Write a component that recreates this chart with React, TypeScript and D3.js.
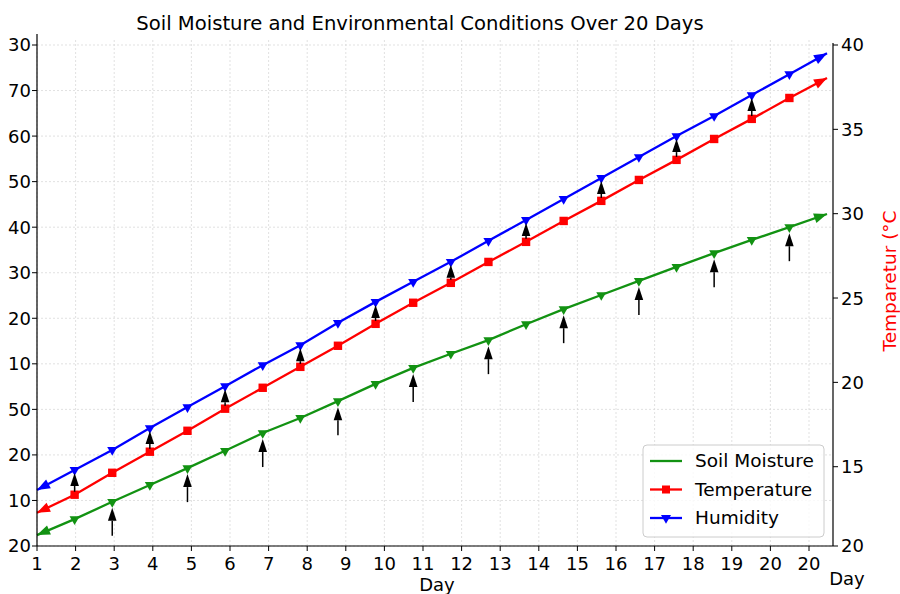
import React from 'react';
import * as d3 from 'd3';

const width = 900;
const height = 594;
const plot = { left: 37, right: 833, top: 40, bottom: 546 };

// values (left axis units for soil / humidity, degC for temperature)
const soilMoisture = [0.24, 0.59, 0.97, 1.34, 1.71, 2.09, 2.48, 2.81, 3.18, 3.56, 3.91, 4.22, 4.52, 4.87, 5.2, 5.51, 5.82, 6.13, 6.43, 6.72, 7.0, 7.29];
const humidity = [1.23, 1.67, 2.11, 2.59, 3.05, 3.51, 3.97, 4.41, 4.9, 5.36, 5.8, 6.24, 6.7, 7.16, 7.62, 8.08, 8.54, 9.0, 9.44, 9.9, 10.36, 10.82];
const temperature = [12.27, 13.34, 14.64, 15.89, 17.13, 18.44, 19.68, 20.92, 22.17, 23.47, 24.72, 25.9, 27.14, 28.33, 29.57, 30.76, 32.0, 33.19, 34.43, 35.62, 36.86, 38.05];

const dayTicks = d3.range(1, 22);
const dayLabels = ['1', '2', '3', '4', '5', '6', '7', '8', '9', '10', '11', '12', '13', '14', '15', '16', '17', '18', '19', '20', '20'];
const leftLabels = ['20', '10', '20', '50', '10', '20', '30', '40', '50', '60', '70', '30'];
const rightTicks = [10.3, 15, 20, 25, 30, 35, 40];
const rightLabels = ['20', '15', '20', '25', '30', '35', '40'];
// which line each black arrow points at, points 1..20
const arrowOn = ['T', 'S', 'T', 'S', 'T', 'S', 'T', 'S', 'T', 'S', 'T', 'S', 'T', 'S', 'T', 'S', 'T', 'S', 'T', 'S'];

const font = 'DejaVu Sans, sans-serif';
const green = '#129212';

const x = d3.scaleLinear().domain([1, 21]).range([37, 809]);
const xi = d3.scaleLinear().domain([0, 21]).range([37, 827]);
const yLeft = d3.scaleLinear().domain([0, 11]).range([plot.bottom, 45]);
const yRight = d3.scaleLinear().domain([10.3, 40]).range([plot.bottom, 45]);

const line = d3.line<[number, number]>();

const endHead = (p: [number, number], q: [number, number], color: string, key: string) => {
  // arrow head with tip at p, coming from q
  const a = Math.atan2(p[1] - q[1], p[0] - q[0]);
  const L = 13, Wd = 5;
  const bx = p[0] - L * Math.cos(a), by = p[1] - L * Math.sin(a);
  const pts = [p, [bx + Wd * Math.sin(a), by - Wd * Math.cos(a)], [bx - Wd * Math.sin(a), by + Wd * Math.cos(a)]];
  return <polygon key={key} points={pts.map(d => d.join(',')).join(' ')} fill={color} />;
};

const upArrow = (xp: number, y0: number, y1: number, key: string) => {
  const L = 13, Wd = 4.3;
  return (
    <g key={key}>
      <line x1={xp} x2={xp} y1={y0} y2={y1 + L} stroke="black" strokeWidth={1.5} />
      <polygon points={`${xp},${y1} ${xp - Wd},${y1 + L} ${xp + Wd},${y1 + L}`} fill="black" />
    </g>
  );
};

const tri = d3.symbol(d3.symbolTriangle, 44)();

const Series = ({ pts, color, marker }: { pts: [number, number][]; color: string; marker: string }) => (
  <g>
    <path d={line(pts) || ''} fill="none" stroke={color} strokeWidth={2.3} />
    {pts.slice(1, -1).map((p, i) =>
      marker === 's' ? (
        <rect key={i} x={p[0] - 4.2} y={p[1] - 4.2} width={8.4} height={8.4} fill={color} />
      ) : (
        <path key={i} d={tri || ''} transform={`translate(${p[0]},${p[1]}) rotate(180)`} fill={color} />
      )
    )}
    {endHead(pts[0], pts[1], color, 'a')}
    {endHead(pts[pts.length - 1], pts[pts.length - 2], color, 'b')}
  </g>
);

const App = () => {
  const soilPts = soilMoisture.map((v, i) => [xi(i), yLeft(v)] as [number, number]);
  const humPts = humidity.map((v, i) => [xi(i), yLeft(v)] as [number, number]);
  const tempPts = temperature.map((v, i) => [xi(i), yRight(v)] as [number, number]);

  return (
    <svg width={width} height={height} style={{ position: 'absolute', left: 0, top: 0 }} fontFamily={font}>
      <rect width={width} height={height} fill="white" />
      {/* grid */}
      <g stroke="#d9d9d9" strokeWidth={0.8} strokeDasharray="2,2">
        {dayTicks.map(d => (
          <line key={'gx' + d} x1={x(d)} x2={x(d)} y1={plot.top} y2={plot.bottom} />
        ))}
        {leftLabels.map((_, i) => (
          <line key={'gy' + i} x1={plot.left} x2={plot.right} y1={yLeft(i)} y2={yLeft(i)} />
        ))}
      </g>

      <text x={420} y={30} textAnchor="middle" fontSize={19.6}>
        Soil Moisture and Environmental Conditions Over 20 Days
      </text>

      <Series pts={soilPts} color={green} marker="v" />
      <Series pts={tempPts} color="red" marker="s" />
      <Series pts={humPts} color="blue" marker="v" />

      {arrowOn.map((t, i) => {
        const k = i + 1;
        const xp = xi(k);
        if (t === 'T') return upArrow(xp, tempPts[k][1] - 3, humPts[k][1] + 3, 'ar' + k);
        return upArrow(xp, soilPts[k][1] + 34, soilPts[k][1] + 6, 'ar' + k);
      })}

      {/* spines */}
      <g stroke="black" strokeWidth={1.2}>
        <line x1={plot.left} x2={plot.left} y1={34} y2={plot.bottom} />
        <line x1={plot.right} x2={plot.right} y1={43} y2={plot.bottom} />
        <line x1={plot.left} x2={plot.right} y1={plot.bottom} y2={plot.bottom} />
      </g>

      {/* bottom axis */}
      {dayTicks.map((d, i) => (
        <g key={'bx' + d} transform={`translate(${x(d)},${plot.bottom})`}>
          <line y2={5} stroke="black" />
          <text y={24} textAnchor="middle" fontSize={18}>{dayLabels[i]}</text>
        </g>
      ))}
      <text x={437} y={591} textAnchor="middle" fontSize={18}>Day</text>
      <text x={847} y={585} textAnchor="middle" fontSize={18}>Day</text>

      {/* left axis */}
      {leftLabels.map((l, i) => (
        <g key={'ly' + i} transform={`translate(${plot.left},${yLeft(i)})`}>
          <line x2={-5} stroke="black" />
          <text x={-6} dy="0.36em" textAnchor="end" fontSize={18}>{l}</text>
        </g>
      ))}

      {/* right axis */}
      {rightTicks.map((v, i) => (
        <g key={'ry' + i} transform={`translate(${plot.right},${yRight(v)})`}>
          <line x2={5} stroke="black" />
          <text x={8} dy="0.36em" fontSize={18}>{rightLabels[i]}</text>
        </g>
      ))}
      <text transform="translate(890,281) rotate(-90)" textAnchor="middle" fill="red" fontSize={18.5} dy="0.35em">
        Temparetur (°C
      </text>

      {/* legend */}
      <g>
        <rect x={643} y={445} width={181} height={92} rx={4} fill="white" fillOpacity={0.8} stroke="#cccccc" />
        {[
          { name: 'Soil Moisture', color: green, m: '' },
          { name: 'Temperature', color: 'red', m: 's' },
          { name: 'Humidity', color: 'blue', m: 'v' },
        ].map((e, i) => {
          const cy = 461 + i * 28.5;
          return (
            <g key={e.name}>
              <line x1={650} x2={682} y1={cy} y2={cy} stroke={e.color} strokeWidth={2.3} />
              {e.m === 's' && <rect x={662} y={cy - 4} width={8} height={8} fill={e.color} />}
              {e.m === 'v' && <path d={tri || ''} transform={`translate(666,${cy}) rotate(180)`} fill={e.color} />}
              <text x={695} y={cy} dy="0.35em" fontSize={18.5}>{e.name}</text>
            </g>
          );
        })}
      </g>
    </svg>
  );
};

export default App;
